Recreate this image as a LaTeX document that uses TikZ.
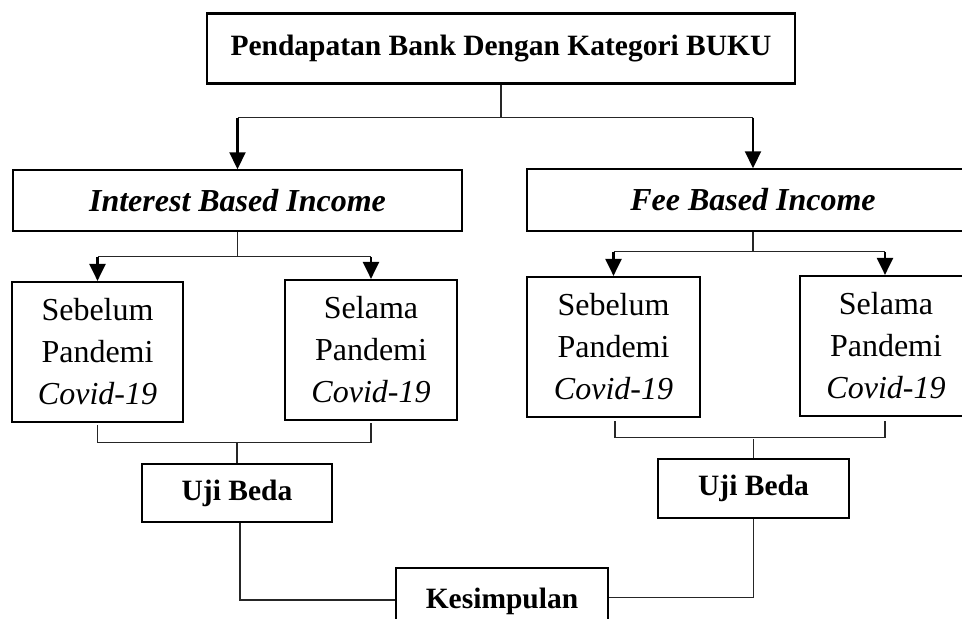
\documentclass[tikz,border=0pt]{standalone}
\usepackage{fontspec}
\setmainfont{Liberation Serif}
\usetikzlibrary{arrows.meta}
\tikzset{
  boxA/.style={draw, line width=2.2pt, inner sep=0pt, align=center},
  boxB/.style={draw, line width=1.5pt, inner sep=0pt, align=center},
  boxC/.style={draw, line width=2.2pt, inner sep=0pt, align=center},
  boxD/.style={draw, line width=2.8pt, inner sep=0pt, align=center},
  conn/.style={draw=black!85, line width=1.3pt},
  arr/.style={draw, line width=2.2pt, -{Triangle[width=16pt,length=17pt]}},
  bigfont/.style={font=\fontsize{32}{42}\selectfont},
  boldfont/.style={font=\fontsize{29.5}{34}\selectfont\bfseries},
  bifont/.style={font=\fontsize{32}{38}\selectfont\bfseries\itshape},
}
\begin{document}
\begin{tikzpicture}[x=1pt,y=-1pt]
\useasboundingbox (0,0) rectangle (962,619);

% top
\node[boxA, boldfont, minimum width=588pt, minimum height=70pt] (top) at (501,48.5) {Pendapatan Bank Dengan Kategori BUKU};

% second level
\node[boxB, bifont, minimum width=449pt, minimum height=61pt] (interest) at (237.5,200.5) {Interest Based Income};
\node[boxB, bifont, minimum width=452pt, minimum height=62pt] (fee) at (753,200) {Fee Based Income};

% third level
\node[boxC, bigfont, minimum width=171pt, minimum height=140pt] (sebL) at (97.5,352) {Sebelum\\Pandemi\\\textit{Covid-19}};
\node[boxC, bigfont, minimum width=172pt, minimum height=140pt] (selL) at (371,350) {Selama\\Pandemi\\\textit{Covid-19}};
\node[boxC, bigfont, minimum width=173pt, minimum height=140pt] (sebR) at (613.5,347) {Sebelum\\Pandemi\\\textit{Covid-19}};
\node[boxC, bigfont, minimum width=172pt, minimum height=140pt] (selR) at (886,346) {Selama\\Pandemi\\\textit{Covid-19}};

% uji beda
\node[boxD, boldfont, minimum width=190pt, minimum height=58pt] (ujiL) at (237,493) {Uji Beda};
\node[boxD, boldfont, minimum width=191pt, minimum height=59pt] (ujiR) at (753.5,488.5) {Uji Beda};

% kesimpulan
\node[boxC, boldfont, minimum width=212pt, minimum height=66pt] (kes) at (502,601) {Kesimpulan};

% connectors from top
\draw[conn] (top.south) -- ++(0,33) coordinate (j1);
\draw[conn] (interest.north |- j1) -- (fee.north |- j1);
\draw[arr] (interest.north |- j1) -- (interest.north);
\draw[arr] (fee.north |- j1) -- (fee.north);

% interest branch
\draw[conn] (interest.south) -- ++(0,25) coordinate (j2);
\draw[conn] (sebL.north |- j2) -- (selL.north |- j2);
\draw[arr] (sebL.north |- j2) -- (sebL.north);
\draw[arr] (selL.north |- j2) -- (selL.north);

% fee branch
\draw[conn] (fee.south) -- ++(0,20) coordinate (j3);
\draw[conn] (sebR.north |- j3) -- ([xshift=-1pt]selR.north |- j3);
\draw[arr] (sebR.north |- j3) -- (sebR.north);
\draw[arr] ([xshift=-1pt]selR.north |- j3) -- ([xshift=-1pt]selR.north);

% brackets
\draw[conn] ([yshift=-2pt]sebL.south) -- ([yshift=-19.5pt]sebL.south) -| ([yshift=-2pt]selL.south);
\draw[conn] (ujiL.north) -- ++(0,-20);
\draw[conn] ([xshift=1.5pt,yshift=-3pt]sebR.south) -- ([xshift=1.5pt,yshift=-19.7pt]sebR.south) -| ([xshift=-1pt,yshift=-4pt]selR.south);
\draw[conn] (ujiR.north) -- ++(0,-19);

% to conclusion
\draw[conn] ([xshift=3pt]ujiL.south) |- ([yshift=1pt]kes.west);
\draw[conn] (ujiR.south) |- ([yshift=3.5pt]kes.east);
\end{tikzpicture}
\end{document}
